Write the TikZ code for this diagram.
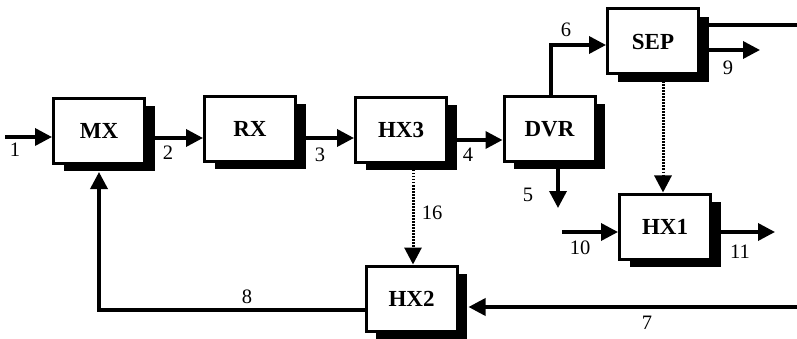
\documentclass[tikz,border=0pt]{standalone}
\usepackage{fontspec}
\setmainfont{Liberation Serif}
\usetikzlibrary{arrows.meta,shadows,calc}
\begin{document}
\begin{tikzpicture}[x=1pt,y=-1pt,
  unit/.style={draw,line width=3pt,fill=white,minimum width=91pt,minimum height=65pt,
    inner sep=0pt,font=\fontsize{23}{26}\selectfont\bfseries,
    drop shadow={shadow xshift=10pt,shadow yshift=-8pt,fill=black,opacity=1}},
  flow/.style={line width=3.5pt,-{Triangle[length=17pt,width=17pt]}},
  plain/.style={line width=3.5pt},
  signal/.style={line width=3pt,dash pattern=on 1.5pt off 1.5pt,-{Triangle[length=17pt,width=17pt]}},
  num/.style={font=\fontsize{20.5}{22}\selectfont,inner sep=0pt}]
\useasboundingbox (0,0) rectangle (797,339);
\node[unit] (MX)  at (99,131)    {MX};
\node[unit] (RX)  at (250,129)   {RX};
\node[unit] (HX3) at (401,130)   {HX3};
\node[unit] (DVR) at (549.5,129) {DVR};
\node[unit] (SEP) at (653,41.5)  {SEP};
\node[unit] (HX1) at (665,226.5) {HX1};
\node[unit] (HX2) at (411.5,298.5) {HX2};
\coordinate (in1) at (5,137);
\coordinate (out5) at (558,208);
\coordinate (outtop) at (797,25);
\coordinate (out9) at (760,50);
\coordinate (in10) at (562,232);
\coordinate (out11) at (775,232);
\coordinate (in7) at (797,307);
\coordinate (hx2sh) at ([xshift=10pt]HX2.east);
\coordinate (mxsh) at ([yshift=-7pt]MX.south);
% streams
\draw[flow] (in1) -- (MX.west |- in1);
\draw[flow] (MX.east |- 0,138) -- (RX.west |- 0,138);
\draw[flow] (RX.east |- 0,138) -- (HX3.west |- 0,138);
\draw[flow] (HX3.east |- 0,140) -- (DVR.west |- 0,140);
\draw[flow] (DVR.south -| out5) -- (out5);
\draw[flow] (DVR.north -| 551,0) |- (SEP.west |- 0,45);
\draw[plain] (SEP.east |- outtop) -- (outtop);
\draw[flow] (SEP.east |- out9) -- (out9);
\draw[flow] (in10) -- (HX1.west |- in10);
\draw[flow] (HX1.east |- out11) -- (out11);
\draw[flow] (in7) -- (hx2sh |- in7);
\draw[flow] (HX2.west |- 0,310) -| (mxsh);
% heat signals
\draw[signal] (SEP.south -| 663,0) -- (HX1.north -| 663,0);
\draw[signal] (HX3.south -| 413,0) -- (HX2.north -| 413,0);
% labels
\node[num] (l1) at (15,150) {1};
\node[num] (l2) at (168,153) {2};
\node[num] (l3) at (320,155) {3};
\node[num] (l4) at (468,155) {4};
\node[num] (l5) at (528,195) {5};
\node[num] (l6) at (566,30) {6};
\node[num] (l7) at (647,323) {7};
\node[num] (l8) at (247,297) {8};
\node[num] (l9) at (728,68) {9};
\node[num] (l10) at (580,248) {10};
\node[num] (l11) at (740,252) {11};
\node[num] (l16) at (432,213) {16};
\end{tikzpicture}
\end{document}
